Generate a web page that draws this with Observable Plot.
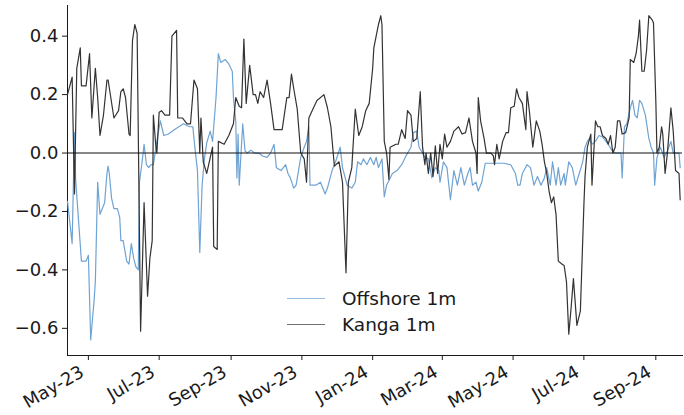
<!DOCTYPE html>
<html><head><meta charset="utf-8">
<script src="https://cdn.jsdelivr.net/npm/d3@7"></script>
<script src="https://cdn.jsdelivr.net/npm/@observablehq/plot@0.6"></script>
<style>
body{margin:0;background:#fff;}
#wrap{position:relative;width:684px;height:415px;font-family:"DejaVu Sans",sans-serif;}
#legend{position:absolute;left:287px;top:285px;font-size:18.5px;color:#1a1a1a;}
.item{display:flex;align-items:center;height:26px;}
.sw{width:38px;height:0;border-top:1.3px solid;margin-right:17px;opacity:0.7;}
</style></head><body><div id="wrap"><div id="legend"></div></div>
<script>
const seriesNames = ["Offshore 1m", "Kanga 1m"];
const seriesColors = ["#6fa3d3", "#333333"];
const xTicks = ["2023-05-01","2023-07-01","2023-09-01","2023-11-01","2024-01-01","2024-03-01","2024-05-01","2024-07-01","2024-09-01"];
const yTicks = [-0.6,-0.4,-0.2,0.0,0.2,0.4];
const xDomain = ["2023-04-13","2024-09-24"];
const yDomain = [-0.693, 0.505];

const kangaDates = ["2023-04-13","2023-04-17","2023-04-19","2023-04-21","2023-04-24","2023-04-25","2023-04-29","2023-05-02","2023-05-04","2023-05-07","2023-05-09","2023-05-11","2023-05-14","2023-05-17","2023-05-18","2023-05-23","2023-05-27","2023-05-29","2023-05-31","2023-06-02","2023-06-05","2023-06-06","2023-06-08","2023-06-10","2023-06-12","2023-06-15","2023-06-18","2023-06-21","2023-06-23","2023-06-25","2023-06-26","2023-06-28","2023-06-29","2023-07-01","2023-07-03","2023-07-06","2023-07-10","2023-07-12","2023-07-16","2023-07-17","2023-07-21","2023-07-25","2023-07-28","2023-07-31","2023-08-03","2023-08-05","2023-08-06","2023-08-08","2023-08-11","2023-08-16","2023-08-17","2023-08-20","2023-08-21","2023-08-26","2023-08-30","2023-09-03","2023-09-05","2023-09-08","2023-09-10","2023-09-12","2023-09-14","2023-09-17","2023-09-20","2023-09-22","2023-09-24","2023-09-26","2023-09-29","2023-10-02","2023-10-05","2023-10-08","2023-10-15","2023-10-19","2023-10-21","2023-10-23","2023-10-25","2023-10-28","2023-10-31","2023-11-03","2023-11-05","2023-11-07","2023-11-11","2023-11-14","2023-11-20","2023-11-23","2023-11-26","2023-11-29","2023-12-03","2023-12-06","2023-12-09","2023-12-11","2023-12-14","2023-12-17","2023-12-20","2023-12-23","2023-12-26","2023-12-29","2024-01-01","2024-01-02","2024-01-04","2024-01-06","2024-01-08","2024-01-09","2024-01-11","2024-01-13","2024-01-15","2024-01-16","2024-01-21","2024-01-23","2024-01-26","2024-01-29","2024-01-31","2024-02-03","2024-02-05","2024-02-08","2024-02-11","2024-02-13","2024-02-15","2024-02-16","2024-02-18","2024-02-20","2024-02-22","2024-02-24","2024-02-26","2024-02-28","2024-03-01","2024-03-03","2024-03-05","2024-03-08","2024-03-11","2024-03-15","2024-03-18","2024-03-21","2024-03-24","2024-03-27","2024-03-30","2024-03-31","2024-04-01","2024-04-03","2024-04-06","2024-04-08","2024-04-12","2024-04-14","2024-04-15","2024-04-17","2024-04-19","2024-04-22","2024-04-25","2024-04-27","2024-04-29","2024-05-02","2024-05-04","2024-05-06","2024-05-09","2024-05-12","2024-05-13","2024-05-15","2024-05-18","2024-05-21","2024-05-24","2024-05-26","2024-05-28","2024-05-30","2024-06-01","2024-06-03","2024-06-05","2024-06-07","2024-06-09","2024-06-12","2024-06-14","2024-06-16","2024-06-18","2024-06-20","2024-06-22","2024-06-25","2024-06-28","2024-07-01","2024-07-02","2024-07-04","2024-07-07","2024-07-08","2024-07-11","2024-07-13","2024-07-15","2024-07-17","2024-07-20","2024-07-22","2024-07-24","2024-07-26","2024-07-28","2024-07-30","2024-08-01","2024-08-03","2024-08-06","2024-08-09","2024-08-10","2024-08-13","2024-08-15","2024-08-17","2024-08-18","2024-08-20","2024-08-22","2024-08-24","2024-08-26","2024-08-29","2024-08-30","2024-09-01","2024-09-02","2024-09-04","2024-09-06","2024-09-07","2024-09-09","2024-09-11","2024-09-14","2024-09-16","2024-09-18","2024-09-21","2024-09-22"];
const kangaValues = [0.20,0.26,-0.14,0.29,0.36,0.23,0.23,0.34,0.12,0.29,0.19,0.06,0.13,0.25,0.25,0.12,0.145,0.21,0.22,0.19,0.065,0.06,0.385,0.44,0.41,-0.61,-0.17,-0.49,-0.36,-0.30,0.13,0.03,0.00,0.14,0.145,0.13,0.13,0.40,0.42,0.12,0.12,0.10,0.10,0.25,0.22,0.00,0.12,-0.03,-0.07,0.02,-0.32,-0.33,0.04,0.03,0.06,0.10,0.19,0.16,0.155,0.39,0.17,0.30,0.20,0.20,0.17,0.21,0.19,0.25,0.17,0.08,0.08,0.19,0.19,0.27,0.22,0.15,0.00,-0.02,-0.10,0.12,0.155,0.18,0.20,0.155,0.09,-0.045,-0.03,-0.10,-0.41,-0.10,-0.05,0.15,0.06,0.09,0.145,0.17,0.29,0.36,0.40,0.44,0.47,0.44,0.04,0.00,-0.09,0.02,0.03,0.03,0.08,0.05,0.145,0.13,0.04,0.05,0.21,0.02,-0.04,0.00,-0.07,0.00,-0.08,0.025,-0.07,0.03,-0.02,0.065,0.02,0.04,0.075,0.09,0.065,0.07,0.12,0.04,0.00,-0.07,0.19,0.11,0.05,0.00,0.00,-0.01,-0.04,0.03,-0.02,0.04,0.07,0.07,0.155,0.16,0.22,0.19,0.17,0.08,0.21,0.145,0.02,0.11,0.075,0.03,-0.03,-0.07,-0.13,-0.17,-0.15,-0.21,-0.37,-0.38,-0.385,-0.44,-0.62,-0.53,-0.43,-0.59,-0.54,-0.18,-0.08,0.02,0.065,-0.11,0.11,0.09,0.09,0.06,0.05,0.03,0.06,0.00,0.02,0.11,0.11,0.065,0.07,0.12,0.32,0.31,0.34,0.40,0.455,0.28,0.28,0.35,0.47,0.455,0.445,0.18,0.00,0.02,0.09,0.065,-0.07,0.00,0.155,0.075,-0.06,-0.07,-0.16];

const offshoreDates = ["2023-04-13","2023-04-17","2023-04-19","2023-04-20","2023-04-25","2023-04-29","2023-05-01","2023-05-03","2023-05-06","2023-05-07","2023-05-09","2023-05-11","2023-05-13","2023-05-15","2023-05-17","2023-05-18","2023-05-19","2023-05-21","2023-05-23","2023-05-26","2023-05-28","2023-05-29","2023-05-31","2023-06-03","2023-06-05","2023-06-07","2023-06-09","2023-06-11","2023-06-13","2023-06-14","2023-06-16","2023-06-18","2023-06-20","2023-06-22","2023-06-24","2023-06-26","2023-06-29","2023-07-02","2023-07-05","2023-07-09","2023-07-14","2023-07-18","2023-07-22","2023-07-27","2023-07-30","2023-08-01","2023-08-03","2023-08-05","2023-08-07","2023-08-09","2023-08-11","2023-08-14","2023-08-16","2023-08-19","2023-08-21","2023-08-23","2023-08-27","2023-08-30","2023-09-02","2023-09-03","2023-09-05","2023-09-06","2023-09-07","2023-09-08","2023-09-11","2023-09-13","2023-09-15","2023-09-18","2023-09-21","2023-09-25","2023-09-28","2023-10-02","2023-10-05","2023-10-08","2023-10-10","2023-10-14","2023-10-18","2023-10-20","2023-10-22","2023-10-25","2023-10-27","2023-10-31","2023-11-03","2023-11-05","2023-11-07","2023-11-08","2023-11-13","2023-11-17","2023-11-21","2023-11-23","2023-11-27","2023-11-30","2023-12-04","2023-12-06","2023-12-10","2023-12-14","2023-12-17","2023-12-19","2023-12-22","2023-12-24","2023-12-27","2023-12-30","2024-01-02","2024-01-04","2024-01-06","2024-01-09","2024-01-11","2024-01-13","2024-01-18","2024-01-22","2024-01-26","2024-01-29","2024-02-03","2024-02-05","2024-02-08","2024-02-10","2024-02-13","2024-02-15","2024-02-18","2024-02-21","2024-02-24","2024-02-27","2024-02-28","2024-03-02","2024-03-05","2024-03-08","2024-03-11","2024-03-14","2024-03-17","2024-03-20","2024-03-23","2024-03-25","2024-03-27","2024-03-30","2024-04-01","2024-04-04","2024-04-07","2024-04-12","2024-04-17","2024-04-23","2024-04-29","2024-05-03","2024-05-05","2024-05-07","2024-05-09","2024-05-13","2024-05-16","2024-05-19","2024-05-22","2024-05-25","2024-05-28","2024-05-30","2024-06-02","2024-06-04","2024-06-07","2024-06-09","2024-06-11","2024-06-14","2024-06-15","2024-06-18","2024-06-21","2024-06-24","2024-06-27","2024-06-30","2024-07-02","2024-07-04","2024-07-06","2024-07-08","2024-07-11","2024-07-14","2024-07-17","2024-07-20","2024-07-22","2024-07-25","2024-07-28","2024-08-02","2024-08-03","2024-08-05","2024-08-07","2024-08-10","2024-08-12","2024-08-14","2024-08-16","2024-08-18","2024-08-20","2024-08-23","2024-08-26","2024-08-28","2024-08-30","2024-08-31","2024-09-02","2024-09-05","2024-09-08","2024-09-11","2024-09-14","2024-09-16","2024-09-19","2024-09-21","2024-09-22"];
const offshoreValues = [-0.165,-0.31,0.07,-0.09,-0.37,-0.37,-0.35,-0.64,-0.50,-0.44,-0.10,-0.21,-0.19,-0.17,-0.07,-0.045,-0.07,-0.155,-0.19,-0.19,-0.22,-0.30,-0.30,-0.37,-0.38,-0.31,-0.36,-0.39,-0.40,-0.10,-0.04,0.03,-0.04,-0.05,-0.04,-0.04,0.04,0.11,0.06,0.065,0.08,0.09,0.10,0.09,0.09,0.01,-0.06,-0.34,-0.11,-0.02,0.035,0.075,0.04,0.19,0.34,0.31,0.32,0.305,0.28,0.19,0.11,-0.085,0.065,-0.11,0.10,0.007,0.00,0.01,0.00,0.00,-0.01,-0.015,0.00,0.03,-0.05,-0.06,-0.04,-0.07,-0.085,-0.12,-0.11,-0.015,0.02,0.04,0.09,-0.11,-0.11,-0.10,-0.14,-0.12,-0.06,-0.03,0.02,-0.05,-0.11,-0.12,-0.10,-0.03,-0.04,-0.02,-0.04,-0.015,-0.04,-0.015,-0.05,-0.02,-0.15,-0.11,-0.07,-0.06,-0.04,-0.015,0.02,0.07,0.075,0.02,0.00,-0.015,-0.02,-0.085,-0.05,-0.06,-0.10,-0.03,-0.05,-0.16,-0.06,-0.11,-0.05,-0.11,-0.07,-0.05,-0.11,-0.10,-0.13,-0.10,-0.035,-0.035,-0.035,-0.035,-0.04,-0.07,-0.11,-0.11,-0.07,-0.04,-0.05,-0.11,-0.08,-0.11,-0.085,-0.05,-0.11,-0.03,-0.11,-0.05,-0.11,-0.07,-0.11,-0.03,-0.05,-0.11,-0.07,-0.03,0.02,0.04,0.05,0.03,0.04,0.06,0.055,0.04,0.03,0.01,0.00,0.00,-0.085,0.09,0.10,0.155,0.18,0.13,0.12,0.18,0.17,0.13,0.05,0.02,0.00,-0.11,-0.015,0.02,-0.015,0.007,0.04,0.00,0.00,0.00,-0.05];

const parse = d3.utcParse("%Y-%m-%d");
const offshore = offshoreDates.map((d, i) => ({date: parse(d), value: offshoreValues[i]}));
const kanga = kangaDates.map((d, i) => ({date: parse(d), value: kangaValues[i]}));

const chart = Plot.plot({
  width: 684, height: 415,
  marginLeft: 67, marginRight: 2, marginTop: 5, marginBottom: 60,
  style: {fontFamily: "DejaVu Sans", fontSize: "18px", color: "#1a1a1a", background: "white", overflow: "visible"},
  x: {type: "utc", domain: xDomain.map(parse), ticks: xTicks.map(parse), tickFormat: d3.utcFormat("%b-%y"), tickRotate: -30, tickSize: 5, tickPadding: 6, line: true, label: null},
  y: {domain: yDomain, ticks: yTicks, tickFormat: ".1f", tickSize: 5, tickPadding: 4, line: true, label: null},
  marks: [
    Plot.lineY(offshore, {x: "date", y: "value", stroke: seriesColors[0], strokeWidth: 1.2}),
    Plot.lineY(kanga, {x: "date", y: "value", stroke: seriesColors[1], strokeWidth: 1.2}),
    Plot.ruleY([0], {stroke: "#111", strokeWidth: 1.1})
  ]
});
// nudge rotated x tick labels to match the reference placement
chart.querySelectorAll('[aria-label="x-axis tick label"] text').forEach(t => {
  const tr = t.getAttribute("transform") || "";
  t.setAttribute("transform", "translate(-6,4) " + tr);
});
const wrap = document.getElementById("wrap");
wrap.insertBefore(chart, wrap.firstChild);

const legend = document.getElementById("legend");
seriesNames.forEach((name, i) => {
  const item = document.createElement("div");
  item.className = "item";
  const sw = document.createElement("span");
  sw.className = "sw";
  sw.style.borderTopColor = seriesColors[i];
  const label = document.createElement("span");
  label.textContent = name;
  item.appendChild(sw); item.appendChild(label);
  legend.appendChild(item);
});
</script></body></html>
